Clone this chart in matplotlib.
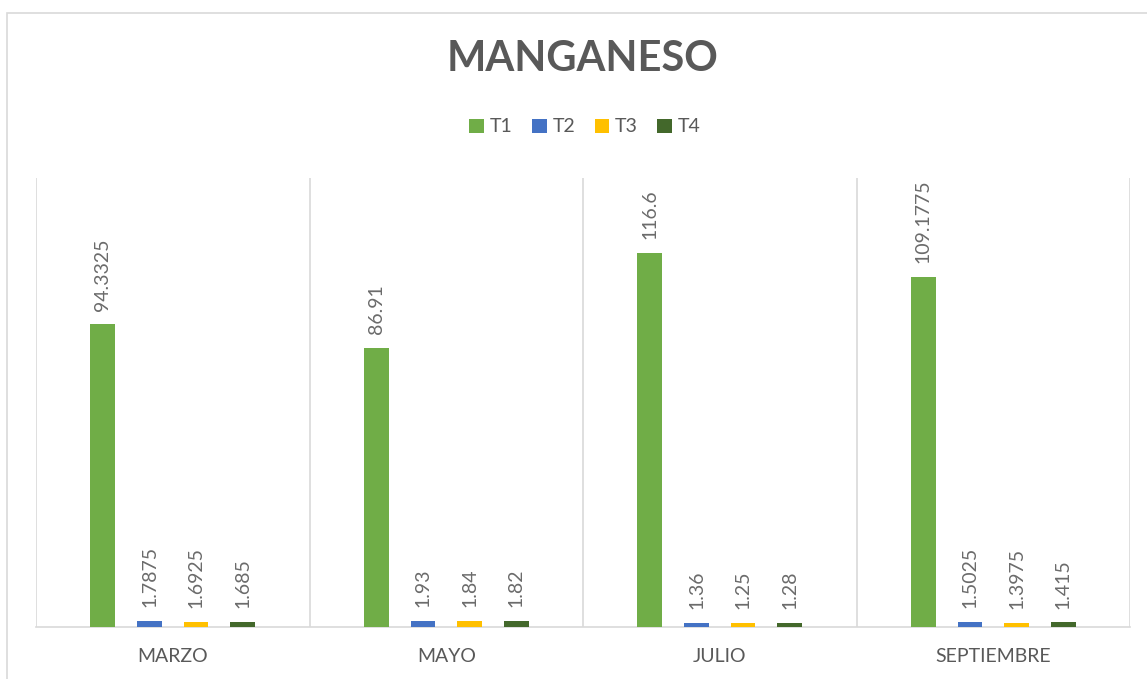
import matplotlib
matplotlib.use("Agg")
import matplotlib.pyplot as plt
import numpy as np
from matplotlib.patches import Rectangle, Patch

plt.rcParams['font.family'] = ['Lato', 'DejaVu Sans']

categories = ["MARZO", "MAYO", "JULIO", "SEPTIEMBRE"]
series_names = ["T1", "T2", "T3", "T4"]
t1 = [94.3325, 86.91, 116.6, 109.1775]
t2 = [1.7875, 1.93, 1.36, 1.5025]
t3 = [1.6925, 1.84, 1.25, 1.3975]
t4 = [1.685, 1.82, 1.28, 1.415]
label_text = [
    ["94.3325", "86.91", "116.6", "109.1775"],
    ["1.7875", "1.93", "1.36", "1.5025"],
    ["1.6925", "1.84", "1.25", "1.3975"],
    ["1.685", "1.82", "1.28", "1.415"],
]
colors = ["#70AD47", "#4472C4", "#FFC000", "#43682B"]

W, H = 1147, 679
fig = plt.figure(figsize=(W / 100, H / 100), dpi=100)
fig.patch.set_facecolor("white")

# outer chart frame (only top/left visible)
fig.add_artist(Rectangle((7 / W, -0.05), 1.2, 1 - 13 / H + 0.05,
                         transform=fig.transFigure, fill=False,
                         edgecolor="#D9D9D9", linewidth=1.2))

ax = fig.add_axes([36 / W, 1 - 627 / H, (1130 - 36) / W, (627 - 178) / H])
x = np.arange(len(categories))
offsets = [-0.256, -0.085, 0.085, 0.256]
width = 0.09
data = [t1, t2, t3, t4]
for i, (vals, c) in enumerate(zip(data, colors)):
    bars = ax.bar(x + offsets[i], vals, width, color=c, zorder=3, label=series_names[i])
    for b, txt in zip(bars, label_text[i]):
        ax.annotate(txt, (b.get_x() + b.get_width() / 2, b.get_height()),
                    xytext=(0, 10), textcoords="offset points",
                    rotation=90, ha="center", va="bottom",
                    fontsize=14, color="#6b6b6b")

ax.set_xlim(-0.5, len(categories) - 0.5)
ax.set_ylim(0, 140)
ax.set_yticks([])
ax.set_xticks(x)
ax.set_xticklabels(categories, fontsize=14, color="#595959")
ax.tick_params(axis="x", length=0, pad=15)
for b in np.arange(-0.5, len(categories), 1.0):
    ax.axvline(b, color="#D9D9D9", linewidth=1.2, zorder=1)
for s in ["top", "right", "left"]:
    ax.spines[s].set_visible(False)
ax.spines["bottom"].set_color("#D9D9D9")
ax.spines["bottom"].set_linewidth(1.2)

fig.text(583 / W, 1 - 59 / H, "MANGANESO", ha="center", va="center",
         fontsize=30, fontweight="bold", color="#595959")

handles = [Patch(facecolor=c, edgecolor="none") for c in colors]
fig.legend(handles, series_names, loc="center", bbox_to_anchor=(585 / W, 1 - 127 / H),
           ncol=4, frameon=False, fontsize=14, labelcolor="#595959",
           handlelength=0.75, handleheight=0.75, handletextpad=0.3, columnspacing=1.0)

fig.savefig("out.png", dpi=100, facecolor="white")
